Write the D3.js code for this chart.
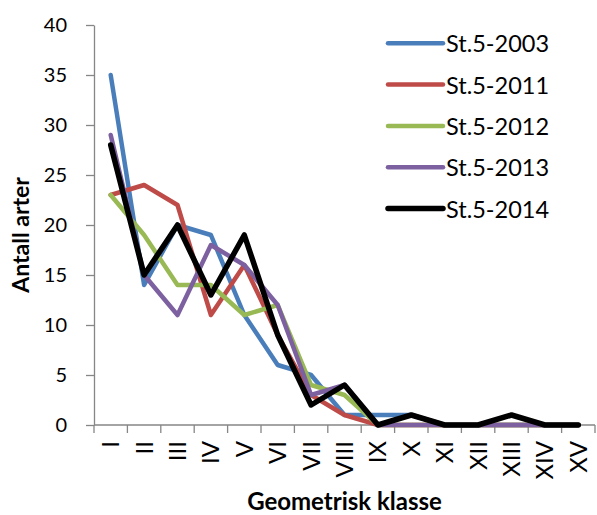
<!DOCTYPE html>
<html>
<head>
<meta charset="utf-8">
<script src="https://cdn.jsdelivr.net/npm/d3@7"></script>
<style>
  html, body { margin: 0; padding: 0; background: #fff; }
  svg { display: block; font-family: Lato, "Open Sans", sans-serif; }
</style>
</head>
<body>
<svg id="chart" width="597" height="515"></svg>
<script>
// Geometric size classes on the x axis
const classes = ["I", "II", "III", "IV", "V", "VI", "VII", "VIII", "IX", "X", "XI", "XII", "XIII", "XIV", "XV"];

// Number of species per geometric class, station 5
const st2003 = [35, 14, 20, 19, 11, 6, 5, 1, 1, 1, 0, 0, 0, 0, 0];
const st2011 = [23, 24, 22, 11, 16, 9, 3, 1, 0, 0, 0, 0, 0, 0, 0];
const st2012 = [23, 19, 14, 14, 11, 12, 4, 3, 0, 0, 0, 0, 0, 0, 0];
const st2013 = [29, 15, 11, 18, 16, 12, 3, 4, 0, 0, 0, 0, 0, 0, 0];
const st2014 = [28, 15, 20, 13, 19, 9, 2, 4, 0, 1, 0, 0, 1, 0, 0];

const seriesNames = ["St.5-2003", "St.5-2011", "St.5-2012", "St.5-2013", "St.5-2014"];
const yTicks = [0, 5, 10, 15, 20, 25, 30, 35, 40];

const series = [
  { name: seriesNames[0], values: st2003, color: "#4A7EBB", width: 4.5 },
  { name: seriesNames[1], values: st2011, color: "#BE4B48", width: 4.5 },
  { name: seriesNames[2], values: st2012, color: "#98B954", width: 4.5 },
  { name: seriesNames[3], values: st2013, color: "#7D60A0", width: 4.5 },
  { name: seriesNames[4], values: st2014, color: "#000000", width: 5.5 }
];

const svg = d3.select("#chart");
const axisColor = "#868686";

const x = d3.scaleBand().domain(classes).range([94, 595]).paddingInner(0).paddingOuter(0);
const y = d3.scaleLinear().domain([0, 40]).range([425, 25]);
const cx = c => x(c) + x.bandwidth() / 2;

// Y axis
const yAxis = svg.append("g")
  .attr("transform", `translate(${x.range()[0]},0)`)
  .call(d3.axisLeft(y).tickValues(yTicks).tickSize(8).tickPadding(19).tickSizeOuter(0));
yAxis.select(".domain").attr("stroke", axisColor).attr("stroke-width", 1.3);
yAxis.selectAll(".tick line").attr("stroke", axisColor).attr("stroke-width", 1.3);
yAxis.selectAll(".tick text")
  .attr("fill", "#000")
  .style("font-family", "Lato, sans-serif")
  .style("font-size", "20px");

// X axis: baseline, boundary ticks and rotated class labels
const xAxis = svg.append("g");
xAxis.append("line")
  .attr("x1", x.range()[0]).attr("x2", x.range()[1])
  .attr("y1", y(0)).attr("y2", y(0))
  .attr("stroke", axisColor).attr("stroke-width", 1.3);
const boundaries = classes.map(c => x(c)).concat([x.range()[1]]);
xAxis.selectAll("line.xt")
  .data(boundaries)
  .join("line")
  .attr("class", "xt")
  .attr("x1", d => d).attr("x2", d => d)
  .attr("y1", y(0)).attr("y2", y(0) + 8)
  .attr("stroke", axisColor).attr("stroke-width", 1.3);
xAxis.selectAll("text.xl")
  .data(classes)
  .join("text")
  .attr("class", "xl")
  .attr("transform", d => `translate(${cx(d)},441) rotate(-90)`)
  .attr("dy", "0.35em")
  .attr("text-anchor", "end")
  .style("font-size", "24px")
  .attr("fill", "#000")
  .text(d => d);

// Series lines
const line = d3.line()
  .x((d, i) => cx(classes[i]))
  .y(d => y(d));

svg.append("g").selectAll("path")
  .data(series)
  .join("path")
  .attr("d", s => line(s.values))
  .attr("fill", "none")
  .attr("stroke", s => s.color)
  .attr("stroke-width", s => s.width)
  .attr("stroke-linejoin", "round")
  .attr("stroke-linecap", "round");

// Legend
const legend = svg.append("g");
const legendRow = d3.scaleLinear().domain([0, 4]).range([43.3, 208.5]);
series.forEach((s, i) => {
  const ly = legendRow(i);
  legend.append("line")
    .attr("x1", 388).attr("x2", 443)
    .attr("y1", ly).attr("y2", ly)
    .attr("stroke", s.color)
    .attr("stroke-width", s.width)
    .attr("stroke-linecap", "round");
  legend.append("text")
    .attr("x", 446)
    .attr("y", ly + 9)
    .style("font-size", "23.5px")
    .attr("fill", "#000")
    .text(s.name);
});

// Axis titles
svg.append("text")
  .attr("transform", "translate(29,235) rotate(-90)")
  .attr("text-anchor", "middle")
  .style("font-size", "23px")
  .style("font-weight", "bold")
  .attr("fill", "#000")
  .text("Antall arter");

svg.append("text")
  .attr("x", 344.5)
  .attr("y", 510)
  .attr("text-anchor", "middle")
  .style("font-size", "24px")
  .style("font-weight", "bold")
  .attr("fill", "#000")
  .text("Geometrisk klasse");
</script>
</body>
</html>
